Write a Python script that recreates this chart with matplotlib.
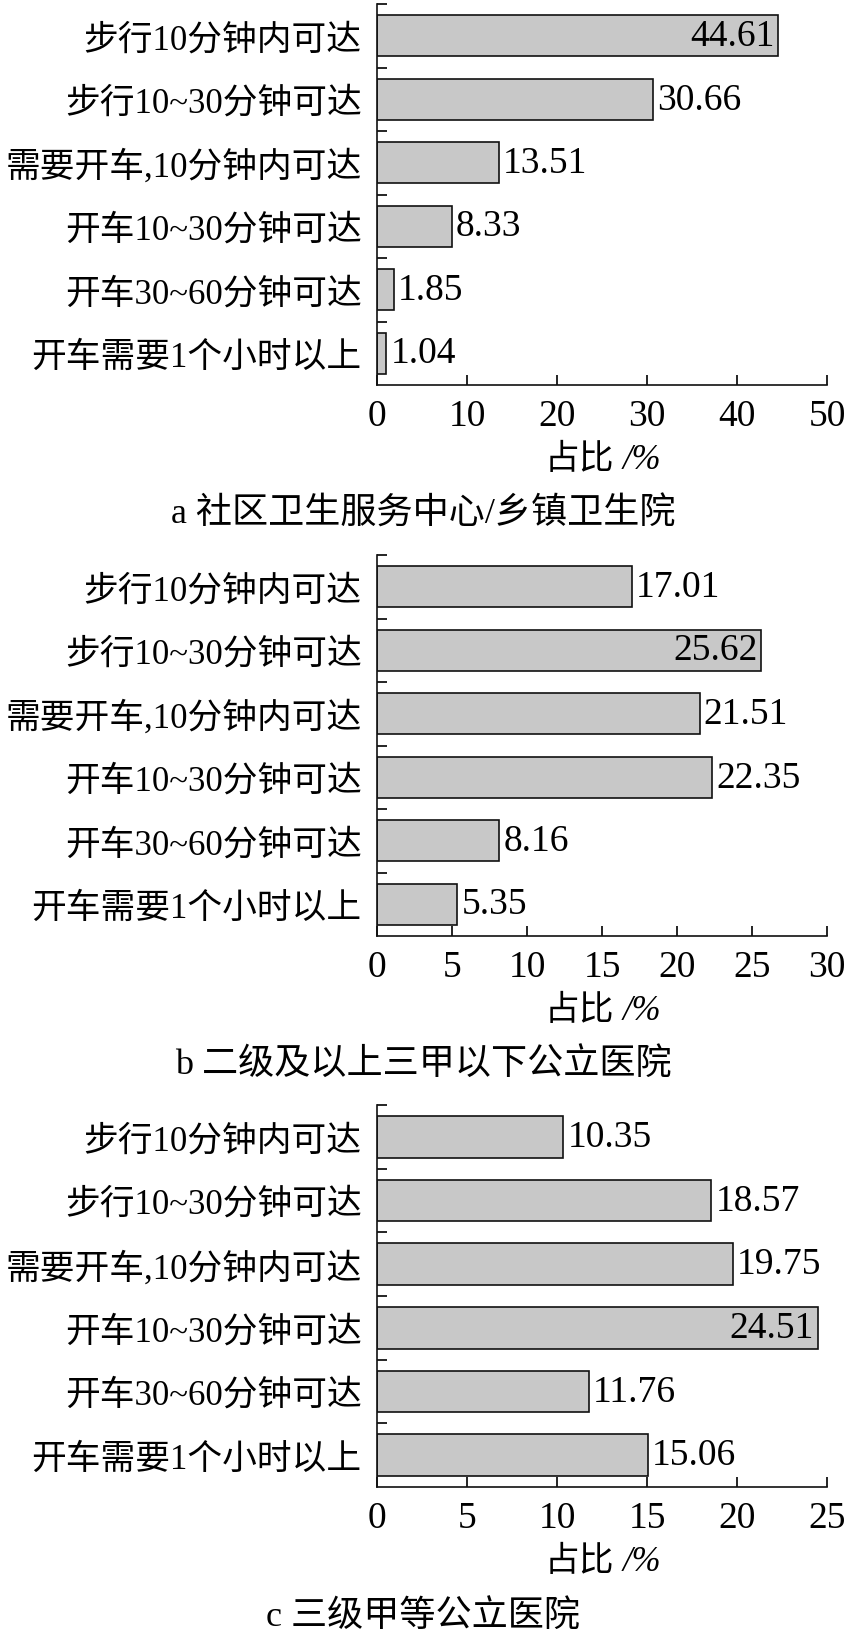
import matplotlib
matplotlib.use("Agg")
import matplotlib.pyplot as plt
from matplotlib.ticker import MultipleLocator, FixedLocator

plt.rcParams['font.family'] = ['Liberation Serif', 'Noto Sans CJK SC']

# categories (top to bottom)
categories = ['步行10分钟内可达', '步行10~30分钟可达', '需要开车,10分钟内可达',
              '开车10~30分钟可达', '开车30~60分钟可达', '开车需要1个小时以上']

vals_a = [44.61, 30.66, 13.51, 8.33, 1.85, 1.04]
vals_b = [17.01, 25.62, 21.51, 22.35, 8.16, 5.35]
vals_c = [10.35, 18.57, 19.75, 24.51, 11.76, 15.06]

xmax = [50, 30, 25]
xstep = [10, 5, 5]
captions = ['a 社区卫生服务中心/乡镇卫生院', 'b 二级及以上三甲以下公立医院', 'c 三级甲等公立医院']

W, H = 846, 1633
fig = plt.figure(figsize=(W / 100, H / 100), dpi=100)

# axes boxes in pixels: (left, top, right, bottom)
boxes = [(377, 5, 827, 386), (377, 556, 827, 937), (377, 1106, 827, 1488)]

for vals, xm, st, cap, (l, t, r, b) in zip([vals_a, vals_b, vals_c], xmax, xstep, captions, boxes):
    ax = fig.add_axes([l / W, 1 - b / H, (r - l) / W, (b - t) / H])
    y = list(range(len(categories)))
    ax.barh(y, vals, height=0.65, color='#c8c8c8', edgecolor='#111111', linewidth=1.2)
    ax.set_ylim(len(categories) - 0.5, -0.5)
    ax.set_xlim(0, xm)
    ax.xaxis.set_major_locator(MultipleLocator(st))
    ax.set_yticks(y)
    ax.set_yticklabels(categories, fontsize=25)
    ax.yaxis.set_minor_locator(FixedLocator([i - 0.5 for i in range(len(categories))]))
    ax.tick_params(axis='y', which='major', length=0, pad=11)
    ax.tick_params(axis='y', which='minor', direction='in', length=7, width=1.2)
    ax.tick_params(axis='x', direction='in', length=7, width=1.2, labelsize=27, pad=10)
    for s in ['top', 'right']:
        ax.spines[s].set_visible(False)
    for s in ['left', 'bottom']:
        ax.spines[s].set_linewidth(1.2)
        ax.spines[s].set_color('#111111')

    vmax = max(vals)
    for yi, v in zip(y, vals):
        if v == vmax:
            ax.annotate(f'{v:.2f}', xy=(v, yi), xytext=(-4, 0), textcoords='offset pixels',
                        ha='right', va='center', fontsize=27)
        else:
            ax.annotate(f'{v:.2f}', xy=(v, yi), xytext=(4, 0), textcoords='offset pixels',
                        ha='left', va='center', fontsize=27)

    t1 = ax.annotate('占比', xy=(0.5, 0), xycoords='axes fraction', xytext=(12, -75),
                     textcoords='offset pixels', ha='right', va='center', fontsize=25)
    ax.annotate('/%', xy=(1, 0.5), xycoords=t1, xytext=(9, 0), textcoords='offset pixels',
                ha='left', va='center', fontsize=25, style='italic')
    fig.text(0.5, 1 - (b + 129) / H, cap, ha='center', va='center', fontsize=26)

fig.savefig('out.png', dpi=100)
